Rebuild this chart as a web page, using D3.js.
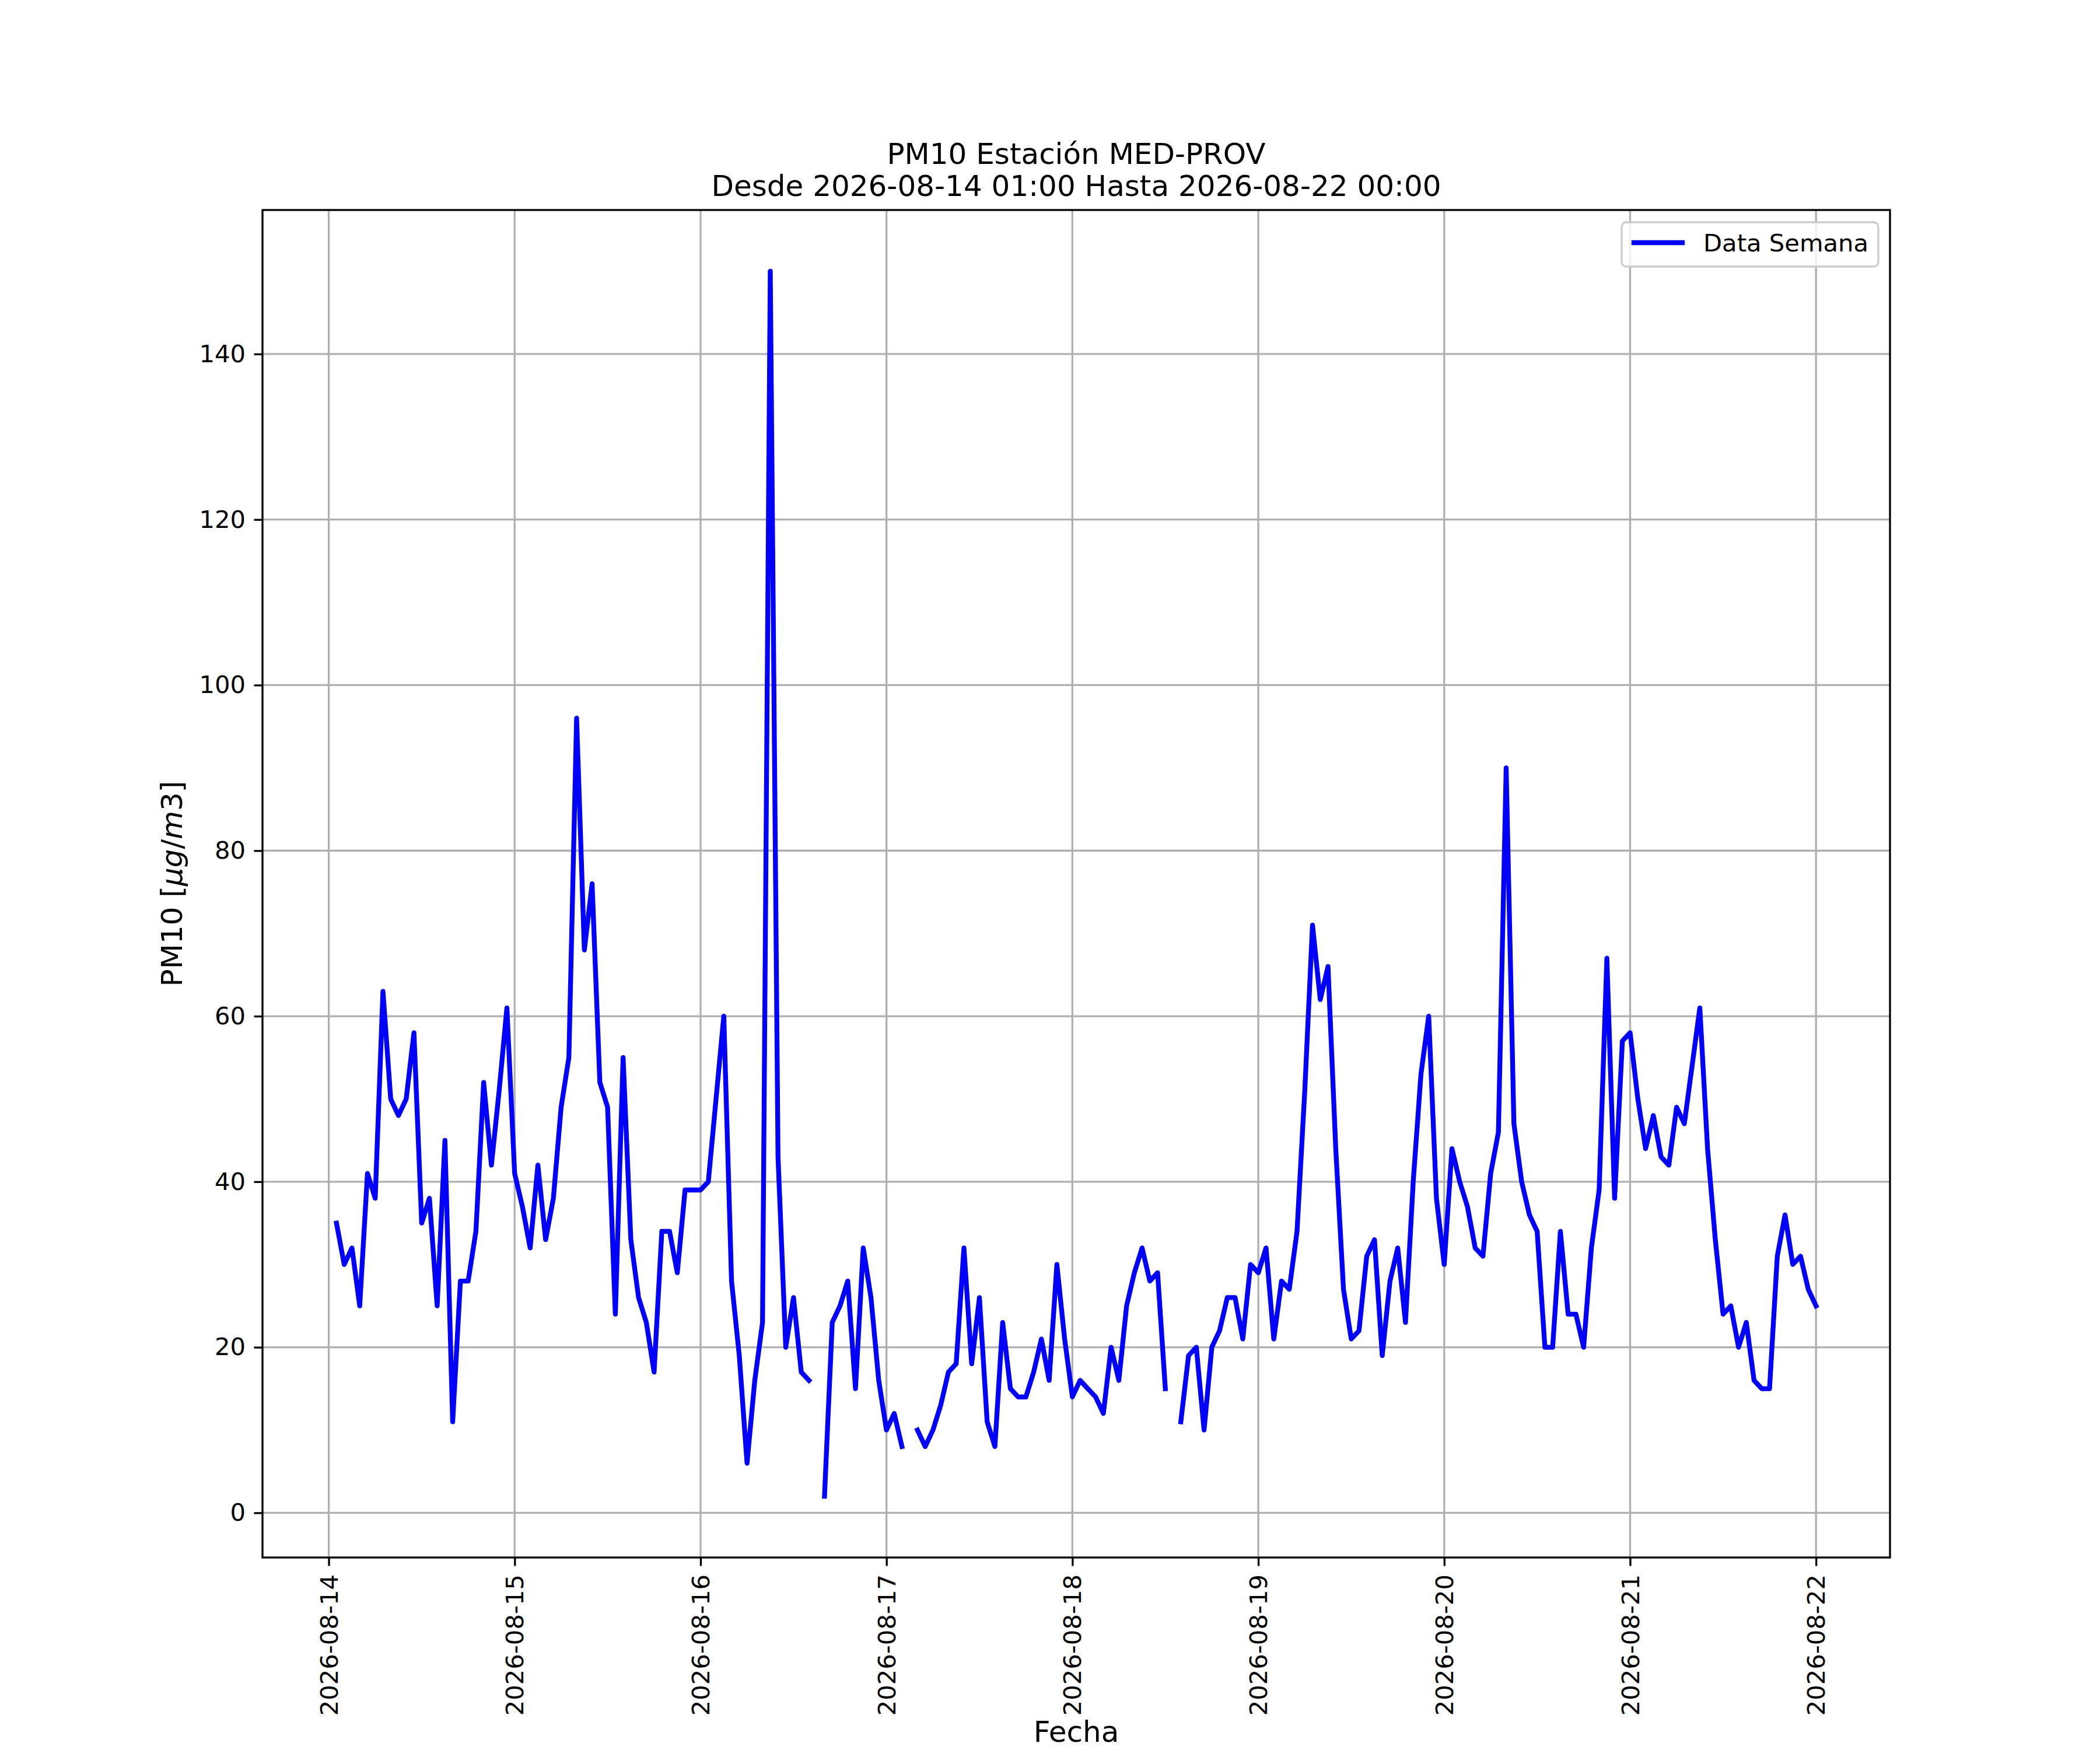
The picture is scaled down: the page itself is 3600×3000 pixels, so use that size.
<!DOCTYPE html>
<html lang="es">

<head>
    <meta charset="UTF-8">
    <title>PM10 MED-PROV</title>
    <script src="https://d3js.org/d3.v7.min.js"></script>
    <style>
        body { margin: 0; background: #fff; }
        text { font-family: "DejaVu Sans", sans-serif; fill: #000; }
    </style>
</head>

<body>

    <svg id="chart" width="3600" height="3000" style="background-color:#fff"></svg>

    <script>
        let titulo1 = 'PM10 Estación MED-PROV';
        let titulo2 = 'Desde 2026-08-14 01:00 Hasta 2026-08-22 00:00';
        let leyenda = 'Data Semana';
        let ejeX = 'Fecha';

        // each day runs from 01:00 to 00:00 of the next day (24 hourly values, null = no data)
        let dias = ['2026-08-14', '2026-08-15', '2026-08-16', '2026-08-17',
                    '2026-08-18', '2026-08-19', '2026-08-20', '2026-08-21'];
        let dia14 = [35, 30, 32, 25, 41, 38, 63, 50, 48, 50, 58, 35, 38, 25, 45, 11, 28, 28, 34, 52, 42, 51, 61, 41];
        let dia15 = [37, 32, 42, 33, 38, 49, 55, 96, 68, 76, 52, 49, 24, 55, 33, 26, 23, 17, 34, 34, 29, 39, 39, 39];
        let dia16 = [40, 50, 60, 28, 19, 6, 16, 23, 150, 43, 20, 26, 17, 16, null, 2, 23, 25, 28, 15, 32, 26, 16, 10];
        let dia17 = [12, 8, null, 10, 8, 10, 13, 17, 18, 32, 18, 26, 11, 8, 23, 15, 14, 14, 17, 21, 16, 30, 21, 14];
        let dia18 = [16, 15, 14, 12, 20, 16, 25, 29, 32, 28, 29, 15, null, 11, 19, 20, 10, 20, 22, 26, 26, 21, 30, 29];
        let dia19 = [32, 21, 28, 27, 34, 51, 71, 62, 66, 44, 27, 21, 22, 31, 33, 19, 28, 32, 23, 40, 53, 60, 38, 30];
        let dia20 = [44, 40, 37, 32, 31, 41, 46, 90, 47, 40, 36, 34, 20, 20, 34, 24, 24, 20, 32, 39, 67, 38, 57, 58];
        let dia21 = [50, 44, 48, 43, 42, 49, 47, 54, 61, 44, 33, 24, 25, 20, 23, 16, 15, 15, 31, 36, 30, 31, 27, 25];
        let valoresDia = [dia14, dia15, dia16, dia17, dia18, dia19, dia20, dia21];

        let xTickDias = ['2026-08-14', '2026-08-15', '2026-08-16', '2026-08-17', '2026-08-18',
                         '2026-08-19', '2026-08-20', '2026-08-21', '2026-08-22'];
        let yTicks = [0, 20, 40, 60, 80, 100, 120, 140];

        let parseDia = d3.utcParse('%Y-%m-%d');
        let data = [];
        dias.forEach((dia, i) => {
            valoresDia[i].forEach((v, h) => {
                data.push({ fecha: d3.utcHour.offset(parseDia(dia), h + 1), valor: v });
            });
        });

        let margin = { left: 450, right: 360, top: 360, bottom: 330 };
        let width = 3600 - margin.left - margin.right;
        let height = 3000 - margin.top - margin.bottom;

        // 5% padding on both axes, like matplotlib autoscale
        let tExt = d3.extent(data, d => d.fecha);
        let tPad = (tExt[1] - tExt[0]) * 0.05;
        let xScale = d3.scaleUtc()
            .domain([new Date(+tExt[0] - tPad), new Date(+tExt[1] + tPad)])
            .range([0, width]);

        let vExt = d3.extent(data, d => d.valor);
        let vPad = (vExt[1] - vExt[0]) * 0.05;
        let yScale = d3.scaleLinear()
            .domain([vExt[0] - vPad, vExt[1] + vPad])
            .range([height, 0]);

        let xTicks = xTickDias.map(parseDia);

        let svg = d3.select('#chart');
        let g = svg.append('g').attr('transform', `translate(${margin.left},${margin.top})`);

        svg.append('defs').append('clipPath').attr('id', 'clip')
            .append('rect').attr('width', width).attr('height', height);

        // grid
        g.append('g').selectAll('line.gx')
            .data(xTicks)
            .join('line')
            .attr('x1', d => xScale(d)).attr('x2', d => xScale(d))
            .attr('y1', 0).attr('y2', height)
            .attr('stroke', '#b0b0b0').attr('stroke-width', 3.3);
        g.append('g').selectAll('line.gy')
            .data(yTicks)
            .join('line')
            .attr('x1', 0).attr('x2', width)
            .attr('y1', d => yScale(d)).attr('y2', d => yScale(d))
            .attr('stroke', '#b0b0b0').attr('stroke-width', 3.3);

        // data line
        let lineGen = d3.line()
            .defined(d => d.valor != null)
            .x(d => xScale(d.fecha))
            .y(d => yScale(d.valor));

        g.append('path')
            .datum(data)
            .attr('clip-path', 'url(#clip)')
            .attr('fill', 'none')
            .attr('stroke', '#0000ff')
            .attr('stroke-width', 8.3)
            .attr('stroke-linejoin', 'round')
            .attr('stroke-linecap', 'square')
            .attr('d', lineGen);

        // axes
        let xAxis = g.append('g')
            .attr('transform', `translate(0,${height})`)
            .call(d3.axisBottom(xScale).tickValues(xTicks)
                .tickFormat(d3.utcFormat('%Y-%m-%d')).tickSize(14.5).tickPadding(14.5));
        xAxis.select('.domain').remove();
        xAxis.attr('font-size', 41.7).attr('font-family', '"DejaVu Sans"');
        xAxis.selectAll('.tick line').attr('stroke', '#000').attr('stroke-width', 3.3);
        xAxis.selectAll('.tick text')
            .attr('transform', 'rotate(-90)')
            .attr('x', -29)
            .attr('y', 0)
            .attr('dy', '0.35em')
            .attr('text-anchor', 'end');

        let yAxis = g.append('g')
            .call(d3.axisLeft(yScale).tickValues(yTicks).tickSize(14.5).tickPadding(14.5));
        yAxis.select('.domain').remove();
        yAxis.attr('font-size', 41.7).attr('font-family', '"DejaVu Sans"');
        yAxis.selectAll('.tick line').attr('stroke', '#000').attr('stroke-width', 3.3);

        // frame
        g.append('rect')
            .attr('width', width).attr('height', height)
            .attr('fill', 'none').attr('stroke', '#000').attr('stroke-width', 3.3);

        // legend
        let lg = svg.append('g');
        lg.append('rect')
            .attr('x', 2780).attr('y', 381).attr('width', 440).attr('height', 76)
            .attr('rx', 8)
            .attr('fill', '#fff').attr('fill-opacity', 0.8)
            .attr('stroke', '#cccccc').attr('stroke-width', 3.3);
        lg.append('line')
            .attr('x1', 2801).attr('x2', 2884).attr('y1', 416).attr('y2', 416)
            .attr('stroke', '#0000ff').attr('stroke-width', 8.3).attr('stroke-linecap', 'square');
        lg.append('text')
            .attr('x', 2920).attr('y', 431)
            .attr('font-size', 41.7)
            .text(leyenda);

        // titles and labels
        let t = svg.append('text')
            .attr('x', margin.left + width / 2)
            .attr('text-anchor', 'middle')
            .attr('font-size', 50);
        t.append('tspan').attr('x', margin.left + width / 2).attr('y', 281).text(titulo1);
        t.append('tspan').attr('x', margin.left + width / 2).attr('y', 336).text(titulo2);

        svg.append('text')
            .attr('x', margin.left + width / 2)
            .attr('y', 2986)
            .attr('text-anchor', 'middle')
            .attr('font-size', 50)
            .text(ejeX);

        let yl = svg.append('text')
            .attr('transform', `translate(312,${margin.top + height / 2}) rotate(-90)`)
            .attr('text-anchor', 'middle')
            .attr('font-size', 50);
        yl.append('tspan').text('PM10 [');
        yl.append('tspan').attr('font-style', 'italic').text('μg');
        yl.append('tspan').text('/');
        yl.append('tspan').attr('font-style', 'italic').text('m');
        yl.append('tspan').text('3]');
    </script>

</body>

</html>
